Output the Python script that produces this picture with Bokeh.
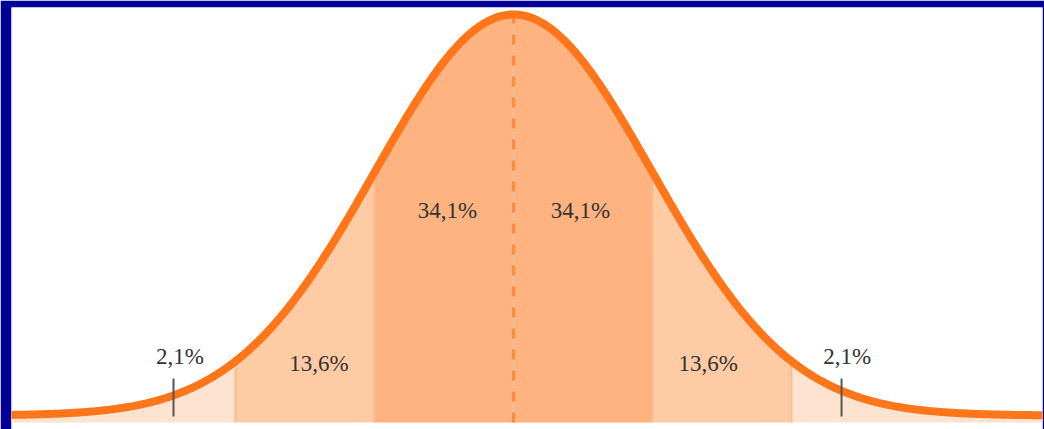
import numpy as np
from bokeh.plotting import figure
from bokeh.models import Range1d, ColumnDataSource
from bokeh.core.properties import value
from bokeh.embed import file_html
from bokeh.resources import INLINE

# ---- data (in standard-deviation units) ----
band_edges = [-3.62, -2.0, -1.0, 0.0, 1.0, 2.0, 3.81]
band_shares = ["2,1%", "13,6%", "34,1%", "34,1%", "13,6%", "2,1%"]
label_x = [-2.40, -1.40, -0.475, 0.482, 1.40, 2.40]
label_y = [0.0587, 0.0517, 0.2039, 0.2039, 0.0517, 0.0587]
tick_x = [-2.446, 2.36]
mean = 0.0
sd = 1.0

band_colors = ["#ffe3d1", "#ffcba5", "#ffb380", "#ffb380", "#ffcba5", "#ffe3d1"]
base = -0.00696


def pdf(z):
    z = np.asarray(z, dtype=float)
    return np.exp(-0.5 * ((z - mean) / sd) ** 2) / (sd * np.sqrt(2 * np.pi))


p = figure(width=1044, height=429, output_backend="svg", toolbar_location=None,
           x_range=Range1d(-3.6115, 3.8058), y_range=Range1d(-0.013928, 0.40589))
p.axis.visible = False
p.grid.visible = False
p.outline_line_color = None
p.background_fill_color = "white"
p.border_fill_color = "#000099"
p.min_border_left = 11
p.min_border_right = 2
p.min_border_top = 7
p.min_border_bottom = 0

# shaded bands
for i in range(len(band_edges) - 1):
    xs = np.linspace(band_edges[i], band_edges[i + 1], 200)
    p.varea(x=xs, y1=np.full_like(xs, base), y2=pdf(xs), fill_color=band_colors[i])

# subtle band boundaries
for e in band_edges[1:-1]:
    if e == mean:
        continue
    p.segment(x0=[e], y0=[base], x1=[e], y1=[float(pdf(e))], line_color="#ffbb8c", line_width=2)

# dashed mean line
p.segment(x0=[mean], y0=[base], x1=[mean], y1=[float(pdf(mean))],
          line_color="#ff8a3a", line_width=3, line_dash="10 11")

# curve
zz = np.linspace(-3.7, 3.9, 800)
p.line(zz, pdf(zz), line_color="#ff761a", line_width=8)

# tick marks
p.segment(x0=tick_x, y0=[-0.001] * 2, x1=tick_x, y1=[0.0368] * 2,
          line_color="#555555", line_width=2)

# labels
src = ColumnDataSource(dict(x=label_x, y=label_y, t=band_shares))
p.text(x="x", y="y", text="t", source=src, text_align="center", text_baseline="middle",
       text_font=value("Liberation Serif"), text_font_size="23px", text_color="#333333")

open("out.html", "w").write(file_html(p, INLINE))
